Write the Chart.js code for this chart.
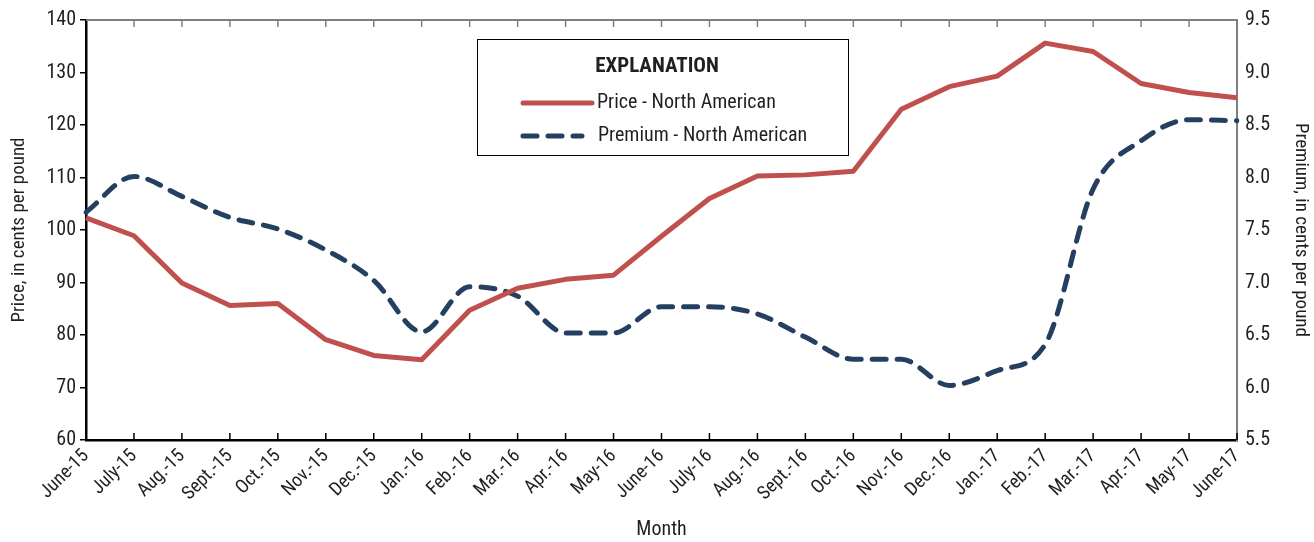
<!DOCTYPE html>
<html>
<head>
<meta charset="utf-8">
<script src="https://cdn.jsdelivr.net/npm/chart.js@4"></script>
<style>
  html, body { margin: 0; padding: 0; background: #fff; }
  #wrap { width: 1314px; height: 542px; }
</style>
</head>
<body>
<div id="wrap"><canvas id="chart" width="1314" height="542"></canvas></div>
<script>
const months = ['June-15', 'July-15', 'Aug.-15', 'Sept.-15', 'Oct.-15', 'Nov.-15', 'Dec.-15', 'Jan.-16',
  'Feb.-16', 'Mar.-16', 'Apr.-16', 'May-16', 'June-16', 'July-16', 'Aug.-16', 'Sept.-16', 'Oct.-16',
  'Nov.-16', 'Dec.-16', 'Jan.-17', 'Feb.-17', 'Mar.-17', 'Apr.-17', 'May-17', 'June-17'];

const price = [102.3, 98.9, 89.9, 85.6, 86.0, 79.1, 76.1, 75.3, 84.7, 88.9, 90.6, 91.4, 98.8,
  106.0, 110.3, 110.5, 111.2, 123.0, 127.3, 129.3, 135.6, 134.0, 127.9, 126.2, 125.2];

const premium = [7.67, 8.01, 7.82, 7.62, 7.51, 7.31, 7.02, 6.53, 6.96, 6.87, 6.52, 6.52, 6.77,
  6.77, 6.70, 6.48, 6.27, 6.27, 6.02, 6.16, 6.41, 7.89, 8.35, 8.55, 8.54];

const priceTicks = [60, 70, 80, 90, 100, 110, 120, 130, 140];
const premiumTicks = [5.5, 6.0, 6.5, 7.0, 7.5, 8.0, 8.5, 9.0, 9.5];

const FONT = '"Liberation Sans Narrow", "Arial Narrow", "Roboto Condensed", sans-serif';
const TEXT = '#231f20';

// frame: gray top border and inward tick marks
const framePlugin = {
  id: 'frame',
  afterDraw(chart) {
    const { ctx, chartArea: a } = chart;
    const x = chart.scales.x;
    ctx.save();
    ctx.lineWidth = 2;
    ctx.strokeStyle = '#7f7f7f';
    ctx.beginPath();
    ctx.moveTo(a.left, a.top);
    ctx.lineTo(a.right, a.top);
    ctx.stroke();
    ctx.lineWidth = 1.5;
    for (let i = 1; i < months.length; i++) {
      const px = x.getPixelForTick(i);
      ctx.strokeStyle = '#7f7f7f';
      ctx.beginPath();
      ctx.moveTo(px, a.top);
      ctx.lineTo(px, a.top + 7);
      ctx.stroke();
      ctx.strokeStyle = '#000';
      ctx.beginPath();
      ctx.moveTo(px, a.bottom);
      ctx.lineTo(px, a.bottom - 7);
      ctx.stroke();
    }
    ctx.restore();
  }
};

// boxed "EXPLANATION" legend
const explainPlugin = {
  id: 'explain',
  afterDraw(chart) {
    const { ctx } = chart;
    const bx = 477, by = 39, bw = 371, bh = 116;
    ctx.save();
    ctx.fillStyle = '#fff';
    ctx.fillRect(bx, by, bw, bh);
    ctx.strokeStyle = '#000';
    ctx.lineWidth = 1;
    ctx.strokeRect(bx + 0.5, by + 0.5, bw, bh);
    ctx.fillStyle = TEXT;
    ctx.textBaseline = 'middle';
    ctx.textAlign = 'center';
    ctx.font = 'bold 21px ' + FONT;
    ctx.fillText('EXPLANATION', 657, 67);
    ctx.textAlign = 'left';
    ctx.font = '20px ' + FONT;
    chart.data.datasets.forEach((ds, i) => {
      const y = 103 + i * 33;
      ctx.strokeStyle = ds.borderColor;
      ctx.lineWidth = 5;
      ctx.lineCap = 'round';
      ctx.setLineDash(ds.borderDash || []);
      ctx.beginPath();
      ctx.moveTo(523, y);
      ctx.lineTo(i === 0 ? 592 : 582, y);
      ctx.stroke();
      ctx.setLineDash([]);
      ctx.fillText(ds.label, 597 + (i === 0 ? 0 : 1), y);
    });
    ctx.restore();
  }
};

new Chart(document.getElementById('chart'), {
  type: 'line',
  data: {
    labels: months,
    datasets: [
      {
        label: 'Price - North American',
        data: price,
        yAxisID: 'y',
        borderColor: '#c0504d',
        borderWidth: 5,
        pointRadius: 0,
        tension: 0,
        borderJoinStyle: 'round'
      },
      {
        label: 'Premium - North American',
        data: premium,
        yAxisID: 'y1',
        borderColor: '#243f60',
        borderWidth: 5,
        borderDash: [14, 11],
        borderCapStyle: 'round',
        pointRadius: 0,
        cubicInterpolationMode: 'monotone'
      }
    ]
  },
  options: {
    responsive: false,
    animation: false,
    layout: { padding: { top: 17, left: 0, right: 0, bottom: 0 } },
    plugins: { legend: { display: false }, tooltip: { enabled: false } },
    scales: {
      x: {
        offset: false,
        afterFit(s) { s.height = 102; },
        grid: { display: false, drawTicks: false },
        border: { display: true, color: '#000', width: 2.5 },
        ticks: {
          autoSkip: false, minRotation: 45, maxRotation: 45, padding: 5,
          color: TEXT, font: { family: FONT, size: 19 }
        },
        title: {
          display: true, text: 'Month', color: TEXT,
          font: { family: FONT, size: 20 }, padding: { top: 0, bottom: 0 }
        }
      },
      y: {
        position: 'left',
        min: 60, max: 140,
        afterFit(s) { s.width = 86; },
        afterBuildTicks(s) { s.ticks = priceTicks.map(v => ({ value: v })); },
        grid: { display: true, drawOnChartArea: false, drawTicks: true, tickLength: 6, color: '#000', lineWidth: 1.5 },
        border: { display: true, color: '#000', width: 2.5 },
        ticks: { color: TEXT, padding: 4, font: { family: FONT, size: 20 } },
        title: {
          display: true, text: 'Price, in cents per pound', color: TEXT,
          font: { family: FONT, size: 19 }, padding: { top: 8, bottom: 2 }
        }
      },
      y1: {
        position: 'right',
        min: 5.5, max: 9.5,
        afterFit(s) { s.width = 77; },
        afterBuildTicks(s) { s.ticks = premiumTicks.map(v => ({ value: v })); },
        grid: { display: false, drawTicks: false },
        border: { display: true, color: '#7f7f7f', width: 2 },
        ticks: {
          color: TEXT, padding: 8, font: { family: FONT, size: 20 },
          callback: v => Number(v).toFixed(1)
        },
        title: {
          display: true, text: 'Premium, in cents per pound', color: TEXT,
          font: { family: FONT, size: 19 }, padding: { top: 2, bottom: 4 }
        }
      }
    }
  },
  plugins: [framePlugin, explainPlugin]
});
</script>
</body>
</html>
